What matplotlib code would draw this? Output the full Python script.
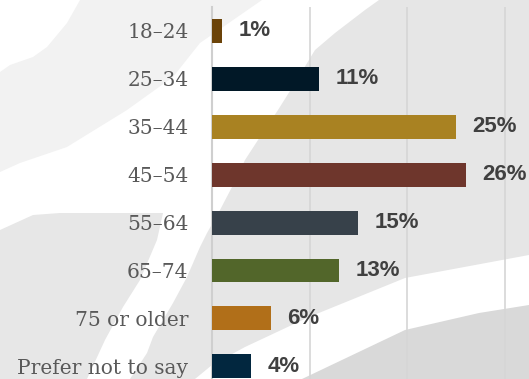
"""
Respondent age distribution - horizontal bar chart
"""

import matplotlib.pyplot as plt
from matplotlib.patches import Polygon

#%% Data
age_groups = ['18–24', '25–34', '35–44', '45–54', '55–64', '65–74',
              '75 or older', 'Prefer not to say']
shares = [1, 11, 25, 26, 15, 13, 6, 4]
bar_colors = ['#6b4309', '#011827', '#a98222', '#6e362c',
              '#37414a', '#52662a', '#b16f19', '#02273f']
grid_ticks = [10, 20, 30]

#%% Figure and decorative background swooshes (pixel coords, origin top-left)
W, H = 529, 379
fig = plt.figure(figsize=(W / 100, H / 100), dpi=100)
fig.patch.set_facecolor('white')

bg = fig.add_axes([0, 0, 1, 1], zorder=-1)
bg.set_xlim(0, W)
bg.set_ylim(H, 0)
bg.axis('off')

swooshes = [
    ('#f2f2f2', [(0, 72), (10, 65), (33, 57), (47, 47), (67, 23), (80, 0),
                 (262, 0), (200, 43), (173, 77), (127, 110), (67, 147),
                 (20, 163), (0, 172)]),
    ('#e7e7e7', [(0, 230), (33, 215), (60, 213), (163, 213), (157, 240),
                 (140, 280), (123, 307), (105, 340), (87, 379), (0, 379)]),
    ('#e6e6e6', [(379, 0), (529, 0), (529, 255), (405, 278), (309, 317),
                 (245, 347), (212, 365), (195, 379), (130, 379), (147, 353),
                 (153, 337), (173, 303), (187, 277), (200, 247), (207, 233),
                 (220, 210), (232, 187), (245, 160), (258, 140), (278, 110),
                 (295, 83), (315, 50), (335, 33), (365, 10)]),
    ('#d9d9d9', [(302, 379), (405, 330), (479, 313), (529, 305), (529, 379)]),
]
for color, pts in swooshes:
    bg.add_patch(Polygon(pts, closed=True, facecolor=color, edgecolor='none'))

#%% Axes
ax = fig.add_axes([212 / W, 0, 312 / W, 372 / H], zorder=1)
ax.set_facecolor('none')

y_pos = list(range(len(age_groups)))
ax.barh(y_pos, shares, height=0.5, color=bar_colors, zorder=3)

for y, v in zip(y_pos, shares):
    ax.annotate(f'{v}%', xy=(v, y), xytext=(12, 0), textcoords='offset points',
                ha='left', va='center', fontsize=16, fontweight='bold',
                family='Liberation Sans', color='#404040')

ax.set_xlim(0, 32)
ax.set_ylim(7.265, -0.5)

ax.set_yticks(y_pos)
ax.set_yticklabels(age_groups, family='DejaVu Serif', fontsize=14.5,
                   color='#595959')
ax.tick_params(axis='y', length=0, pad=17)
ax.set_xticks(grid_ticks)
ax.tick_params(axis='x', length=0, labelbottom=False)
ax.grid(axis='x', color='#d6d6d6', linewidth=1.2, zorder=1)
ax.grid(axis='y', visible=False)

for side in ['top', 'right', 'bottom']:
    ax.spines[side].set_visible(False)
ax.spines['left'].set_color('#cfcfcf')
ax.spines['left'].set_linewidth(1.5)

plt.savefig('out.png', dpi=100)
